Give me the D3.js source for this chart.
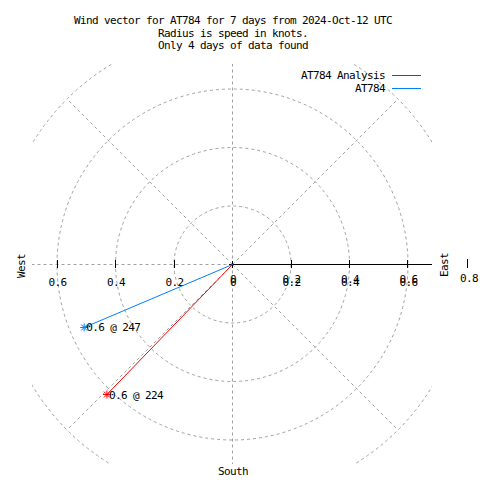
<!DOCTYPE html>
<html><head><meta charset="utf-8">
<script src="https://cdn.jsdelivr.net/npm/d3@7"></script>
<style>body{margin:0;background:#fff}svg text{font-family:"DejaVu Sans Mono",monospace;font-size:11px;letter-spacing:-0.62px;fill:#000}</style>
</head><body><svg id="c" width="480" height="480"></svg>
<script>
const titleLines = ["Wind vector for AT784 for 7 days from 2024-Oct-12 UTC","Radius is speed in knots.","Only 4 days of data found"];
const seriesNames = ["AT784 Analysis","AT784"];
const seriesColors = ["#ff0000","#0080ff"];
const speeds = [0.618, 0.551];
const directions = [224, 247];
const labels = ["0.6 @ 224","0.6 @ 247"];
const ringValues = [0.2, 0.4, 0.6, 0.8];
const tickValues = [-0.6, -0.4, -0.2, 0, 0.2, 0.4, 0.6];
const spokeAngles = [0, 45, 90, 135, 180, 225, 270, 315];

const svg = d3.select("#c");
const cx = 232, cy = 264, box = 200;
const r = d3.scaleLinear().domain([0, 0.8]).range([0, 234]);
const x = d3.scaleLinear().domain([-0.8, 0.8]).range([cx - 234, cx + 234]);
const grid = "#a0a0a0";

svg.append("defs").append("clipPath").attr("id","clip").append("rect")
  .attr("x", cx - box).attr("y", cy - box).attr("width", 2*box).attr("height", 2*box);

const g = svg.append("g").attr("clip-path","url(#clip)");
g.selectAll("circle.ring").data(ringValues).join("circle")
  .attr("cx", cx+0.5).attr("cy", cy+0.5).attr("r", d => r(d))
  .attr("fill","none").attr("stroke",grid).attr("stroke-dasharray","3,3");
g.selectAll("line.spoke").data(spokeAngles).join("line")
  .attr("x1", cx+0.5).attr("y1", cy+0.5)
  .attr("x2", d => cx + 0.5 + r(0.8)*Math.sin(d*Math.PI/180))
  .attr("y2", d => cy + 0.5 - r(0.8)*Math.cos(d*Math.PI/180))
  .attr("stroke",grid).attr("stroke-dasharray","3,3");
g.append("line").attr("x1",cx).attr("y1",cy+0.5).attr("x2",cx+box).attr("y2",cy+0.5).attr("stroke","#000");

svg.selectAll("line.tick").data(tickValues.filter(d=>d!==0)).join("line")
  .attr("x1", d => Math.round(x(d))+0.5).attr("x2", d => Math.round(x(d))+0.5)
  .attr("y1", cy-4).attr("y2", cy+4).attr("stroke","#000");
svg.append("line").attr("x1",cx-3).attr("x2",cx+4).attr("y1",cy+0.5).attr("y2",cy+0.5).attr("stroke","#000");
svg.append("line").attr("x1",cx+0.5).attr("x2",cx+0.5).attr("y1",cy-3).attr("y2",cy+4).attr("stroke","#000");
svg.selectAll("text.tl").data(tickValues).join("text")
  .attr("x", d => x(d)+1).attr("y", 286).attr("text-anchor","middle")
  .text(d => d===0 ? "0" : d3.format(".1f")(Math.abs(d)));
svg.selectAll("text.tl2").data(tickValues.filter(d=>d>=0)).join("text")
  .attr("x", d => x(d)+1).attr("y", 283).attr("text-anchor","middle")
  .text(d => d===0 ? "0" : d3.format(".1f")(d));
svg.append("line").attr("x1",467.5).attr("x2",467.5).attr("y1",259).attr("y2",268).attr("stroke","#000");
svg.append("text").attr("x",469).attr("y",282).attr("text-anchor","middle").text("0.8");

svg.append("text").attr("transform","translate(25,266) rotate(-90)").attr("text-anchor","middle").text("West");
svg.append("text").attr("transform","translate(448,265) rotate(-90)").attr("text-anchor","middle").text("East");
svg.append("text").attr("x",233).attr("y",475).attr("text-anchor","middle").text("South");

svg.selectAll("text.title").data(titleLines).join("text")
  .attr("x", 233).attr("y", (d,i) => 24 + i*12.7).attr("text-anchor","middle").text(d => d);

const pt = (s, a) => [cx + 0.5 + r(s)*Math.sin(a*Math.PI/180), cy + 0.5 - r(s)*Math.cos(a*Math.PI/180)];
speeds.forEach((s, i) => {
  const [px, py] = pt(s, directions[i]);
  svg.append("line").attr("x1",cx+0.5).attr("y1",cy+0.5).attr("x2",px).attr("y2",py)
    .attr("stroke",seriesColors[i]).attr("stroke-width",1);
  const m = svg.append("g").attr("stroke",seriesColors[i]).attr("stroke-width",1);
  [[-4,0,4,0],[0,-4,0,4],[-3,-3,3,3],[-3,3,3,-3]].forEach(l =>
    m.append("line").attr("x1",px+l[0]).attr("y1",py+l[1]).attr("x2",px+l[2]).attr("y2",py+l[3]));
  svg.append("text").attr("x",px+2).attr("y",py+4).text(labels[i]);
});

seriesNames.forEach((n, i) => {
  const y = 75 + i*13;
  svg.append("text").attr("x",385).attr("y",y+4).attr("text-anchor","end").text(n);
  svg.append("line").attr("x1",392).attr("x2",421).attr("y1",y+0.5).attr("y2",y+0.5).attr("stroke",seriesColors[i]);
});
</script></body></html>
